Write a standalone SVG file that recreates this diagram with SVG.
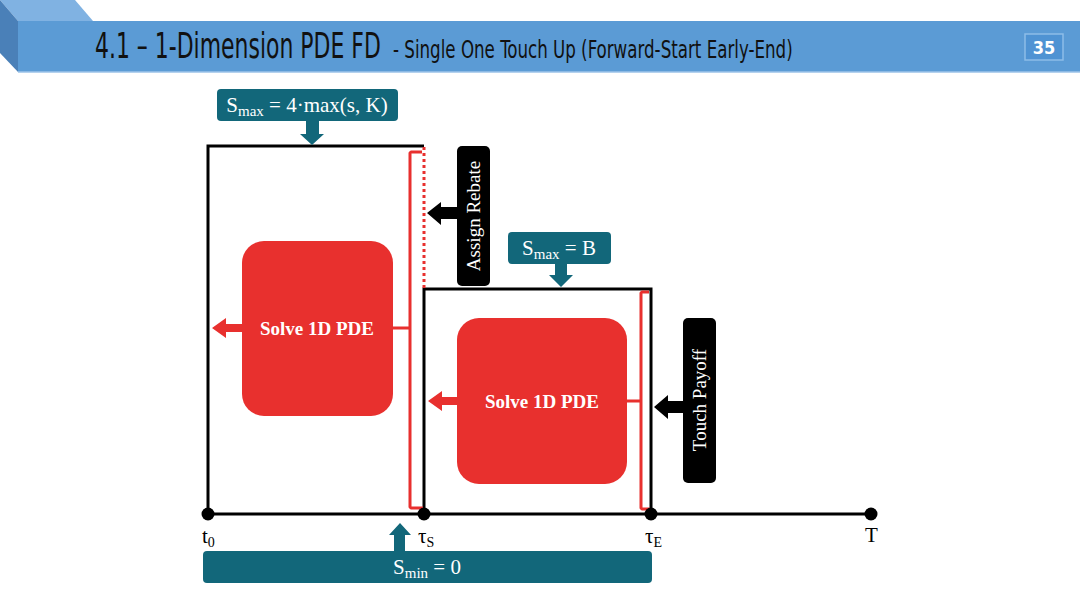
<svg xmlns="http://www.w3.org/2000/svg" width="1080" height="608" viewBox="0 0 1080 608">
<defs>
<style>
.title{font-family:"DejaVu Sans Condensed","DejaVu Sans",sans-serif;fill:#111;}
.math{font-family:"Liberation Serif",serif;font-size:21px;}
.teal{fill:#12677a;}
.tealtxt{fill:#fff;}
.red{fill:#e8302e;}
.redline{fill:none;stroke:#e8302e;stroke-width:3;stroke-linejoin:round;}
.blk{fill:none;stroke:#000;stroke-width:3;}
.lbl{font-family:"Liberation Serif",serif;font-weight:bold;font-size:19px;fill:#fff;text-anchor:middle;}
.vlbl{font-family:"Liberation Serif",serif;font-size:19px;fill:#fff;text-anchor:middle;}
</style>
</defs>
<rect width="1080" height="608" fill="#fff"/>

<g id="header">
<polygon points="0,0 75,0 93,21 18,21" fill="#80b2e2"/>
<polygon points="0,0 18,21 18,72 0,53" fill="#4a80b8"/>
<rect x="18" y="21" width="1062" height="51" fill="#5b9bd5"/>
<line x1="18" y1="72" x2="1080" y2="72" stroke="#9cc3e8" stroke-width="1.5"/>
<text class="title" transform="translate(95,58) scale(0.62,1)" x="0" y="0" font-size="35" textLength="461" lengthAdjust="spacingAndGlyphs">4.1 – 1-Dimension PDE FD</text>
<text class="title" transform="translate(393,58) scale(0.7,1)" x="0" y="0" font-size="24" textLength="571" lengthAdjust="spacingAndGlyphs">- Single One Touch Up (Forward-Start  Early-End)</text>
<rect x="1025" y="34" width="38" height="26" fill="#4f93d3" stroke="#8dbde8" stroke-width="1.5"/>
<text x="1044" y="54" font-family="DejaVu Sans Condensed,sans-serif" font-weight="bold" font-size="18" fill="#fff" text-anchor="middle">35</text>
</g>

<g id="connectors">
<polyline class="blk" points="424,146 208,146 208,514"/>
<polyline class="blk" points="424,514 424,289 651,289 651,514"/>
<line class="blk" x1="208" y1="514" x2="871" y2="514"/>
<line x1="424" y1="147" x2="424" y2="288" stroke="#e8302e" stroke-width="3" stroke-dasharray="3,3"/>
<path class="redline" d="M422,152 L411,152 L410,153 L410,507 L411,508 L423,508 M410,328 L393,328"/>
<path class="redline" d="M649,292 L642,292 L641,293 L641,508 L642,509 L650,509 M641,401 L627,401"/>
<polygon class="red" points="212,328 226,318 226,324 243,324 243,332 226,332 226,338"/>
<polygon class="red" points="428,401 442,391 442,397 458,397 458,405 442,405 442,411"/>
<polygon fill="#000" points="427,213 441,202 441,207 458,207 458,219 441,219 441,225"/>
<polygon fill="#000" points="654,407 668,395 668,401 684,401 684,413 668,413 668,419"/>
<polygon class="teal" points="306,121 319,121 319,134 324,134 312,145 300,134 306,134"/>
<polygon class="teal" points="555,264 567,264 567,275 573,275 561,287 549,275 555,275"/>
<polygon class="teal" points="394,551 405,551 405,535 411,535 400,523 389,535 394,535"/>
</g>

<g id="dots" fill="#000">
<circle cx="208" cy="514" r="6.5"/>
<circle cx="424" cy="514" r="6.5"/>
<circle cx="651" cy="514" r="6.5"/>
<circle cx="871" cy="514" r="6.5"/>
</g>

<g id="time-labels" class="math" fill="#000">
<text x="202" y="543">t<tspan font-size="14" dy="4">0</tspan></text>
<text x="418" y="543">τ<tspan font-size="14" dy="4">S</tspan></text>
<text x="645" y="543">τ<tspan font-size="14" dy="4">E</tspan></text>
<text x="865" y="542">T</text>
</g>

<g id="smax1">
<rect class="teal" x="217" y="89" width="181" height="32" rx="4"/>
<text class="math tealtxt" x="307" y="112" text-anchor="middle">S<tspan font-size="15" dy="4">max</tspan><tspan dy="-4"> = 4·max(s, K)</tspan></text>
</g>

<g id="smax2">
<rect class="teal" x="508" y="232" width="103" height="32" rx="4"/>
<text class="math tealtxt" x="559" y="255" text-anchor="middle">S<tspan font-size="15" dy="4">max</tspan><tspan dy="-4"> = B</tspan></text>
</g>

<g id="smin">
<rect class="teal" x="203" y="551" width="449" height="32" rx="4"/>
<text class="math tealtxt" x="427" y="574" text-anchor="middle">S<tspan font-size="15" dy="4">min</tspan><tspan dy="-4"> = 0</tspan></text>
</g>

<g id="pde1">
<rect class="red" x="242" y="241" width="151" height="175" rx="22"/>
<text class="lbl" x="317" y="335">Solve 1D PDE</text>
</g>

<g id="pde2">
<rect class="red" x="457" y="318" width="170" height="166" rx="22"/>
<text class="lbl" x="542" y="408">Solve 1D PDE</text>
</g>

<g id="rebate">
<rect x="457" y="146" width="33" height="140" rx="5" fill="#000"/>
<text class="vlbl" transform="translate(480,216) rotate(-90)">Assign Rebate</text>
</g>

<g id="payoff">
<rect x="683" y="318" width="33" height="165" rx="5" fill="#000"/>
<text class="vlbl" transform="translate(706,400) rotate(-90)">Touch Payoff</text>
</g>
</svg>
